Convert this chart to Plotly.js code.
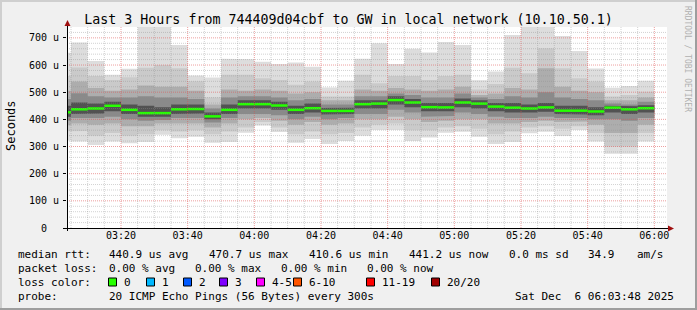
<!DOCTYPE html>
<html><head><meta charset="utf-8">
<script src="https://cdn.plot.ly/plotly-3.0.1.min.js"></script>
<style>html,body{margin:0;padding:0;background:#f0f0f0}</style>
</head><body><div id="chart" style="width:697px;height:310px"></div>
<script>
// ---- data (µs) ----
const times = ['03:05','03:10','03:15','03:20','03:25','03:30','03:35','03:40','03:45','03:50','03:55','04:00',
               '04:05','04:10','04:15','04:20','04:25','04:30','04:35','04:40','04:45','04:50','04:55','05:00',
               '05:05','05:10','05:15','05:20','05:25','05:30','05:35','05:40','05:45','05:50','05:55','06:00'];
const rttMax = [645,683,615,564,586,790,770,674,561,554,623,621,612,604,609,594,517,542,623,680,604,660,646,685,674,544,576,711,760,800,707,652,587,516,523,542];
const rttP19 = [560,591,560,545,555,590,600,588,540,480,564,564,551,545,527,539,484,484,564,533,560,560,545,560,564,510,530,590,570,662,588,551,539,484,490,502];
const rttP17 = [505,539,515,505,510,525,520,520,505,455,510,505,510,505,495,500,470,470,510,505,515,510,505,510,520,490,495,515,510,588,520,505,500,470,470,480];
const rttP15 = [475,496,485,480,480,485,480,480,475,440,480,485,485,480,470,475,455,455,485,485,495,490,480,480,495,480,475,485,480,500,480,475,470,458,455,465];
const rttP13 = [450,462,458,465,455,450,445,455,455,425,455,470,470,465,450,458,442,443,470,470,485,475,460,460,477,470,460,460,455,460,450,450,445,450,448,452];
const rttMedian = [426,437,440,450,435,423,423,437,438,411,435,456,456,451,435,441,431,431,456,458,471,462,445,444,462,458,447,443,440,444,432,432,429,443,437,441];
const rttP8  = [410,420,422,430,420,410,410,420,422,400,420,440,440,435,420,425,418,420,440,440,455,445,430,430,445,440,430,425,425,428,420,418,415,425,420,425];
const rttP6  = [395,405,405,410,400,395,398,405,405,388,405,420,420,415,400,410,400,405,420,420,435,425,410,412,425,420,410,405,405,410,405,405,400,400,395,405];
const rttP4  = [378,385,380,385,375,375,385,385,385,370,385,400,405,395,380,390,380,385,400,400,410,400,390,395,400,400,385,385,390,395,390,392,380,350,350,380];
const rttP2  = [355,357,340,350,340,345,360,355,360,345,355,370,390,370,345,355,345,350,370,380,385,360,360,370,375,365,345,355,370,375,365,375,350,300,300,350];
const rttMin = [322,318,306,318,312,317,343,330,336,314,317,351,377,353,314,328,309,320,340,361,361,320,333,351,354,336,309,317,349,354,339,361,318,273,273,318];
const yTickVals = [0,100,200,300,400,500,600,700];
const yTickText = ['0\u00a0\u00a0','100 u','200 u','300 u','400 u','500 u','600 u','700 u'];
const lossLabels = ['0','1','2','3','4-5','6-10','11-19','20/20'];
const lossColors = ['#26ff00','#00b8ff','#0059ff','#7e00ff','#ff00ff','#ff5500','#ff0000','#a10000'];
const titleText = 'Last 3 Hours from 744409d04cbf to GW in local network (10.10.50.1)';

// ---- helpers ----
const FONT = 'DejaVu Sans Mono';
const L=67, T=27, W=600, H=201;
const px = x => (x-L)/W;
const py = y => (T+H-y)/H;
const STEP = 5*60*1000;
function tms(hhmm, sec){ const p=hhmm.split(':').map(Number); return Date.UTC(2025,11,6,p[0],p[1],sec||0); }
const xs = [];
times.forEach(t => { const e = tms(t); xs.push(e-STEP, e); });
const stepY = arr => { const o=[]; arr.forEach(v => o.push(v,v)); return o; };

const bands = [
  [rttMin, rttMax, '#dddddd'],
  [rttP2, rttP19, '#cacaca'],
  [rttP4, rttP17, '#adadad'],
  [rttP6, rttP15, '#8a8a8a'],
  [rttP8, rttP13, '#525252']
];
const traces = [];
bands.forEach(b => {
  traces.push({x:xs, y:stepY(b[0]), type:'scatter', mode:'lines', line:{width:0, color:b[2]}, hoverinfo:'skip', showlegend:false});
  traces.push({x:xs, y:stepY(b[1]), type:'scatter', mode:'lines', line:{width:0, color:b[2]}, fill:'tonexty', fillcolor:b[2], hoverinfo:'skip', showlegend:false});
});
const mx=[], my=[];
times.forEach((t,i) => { const e=tms(t); mx.push(e-STEP, e, null); my.push(rttMedian[i], rttMedian[i], null); });
traces.push({x:mx, y:my, type:'scatter', mode:'lines', line:{width:2.5, color:'#26ff00'}, connectgaps:false, hoverinfo:'skip', showlegend:false});

// ---- shapes ----
const shapes = [];
const xStart = tms('03:03',48), xEnd = tms('06:03',48);
for (let v=20; v<=720; v+=20) {
  const major = v%100===0;
  shapes.push({type:'line', layer:'above', xref:'paper', yref:'y', x0:0, x1:1, y0:v, y1:v,
    line:{width:1, dash:'1px,1px', color: major ? 'rgba(222,80,80,0.55)' : 'rgba(143,143,143,0.4)'}});
}
for (let t=tms('03:05'); t<=tms('06:00'); t+=STEP) {
  const major = (new Date(t).getUTCMinutes())%20===0;
  shapes.push({type:'line', layer:'above', xref:'x', yref:'paper', x0:t, x1:t, y0:0, y1:1,
    line:{width:1, dash:'1px,1px', color: major ? 'rgba(222,80,80,0.55)' : 'rgba(143,143,143,0.4)'}});
}
// axes
shapes.push({type:'line', layer:'above', xref:'paper', yref:'paper', x0:px(63), x1:px(669), y0:py(228.5), y1:py(228.5), line:{width:1, color:'#000'}});
shapes.push({type:'line', layer:'above', xref:'paper', yref:'paper', x0:px(67.5), x1:px(67.5), y0:py(231), y1:py(23), line:{width:1, color:'#000'}});
shapes.push({type:'path', layer:'above', xref:'paper', yref:'paper',
  path:`M ${px(67.5)},${py(20)} L ${px(64.5)},${py(26)} L ${px(70.5)},${py(26)} Z`, fillcolor:'#a01010', line:{width:0}});
shapes.push({type:'path', layer:'above', xref:'paper', yref:'paper',
  path:`M ${px(674)},${py(228.5)} L ${px(668)},${py(225.5)} L ${px(668)},${py(231.5)} Z`, fillcolor:'#a01010', line:{width:0}});
// frame
shapes.push({type:'line', xref:'paper', yref:'paper', x0:px(0), x1:px(697), y0:py(1), y1:py(1), line:{width:2, color:'#cfcfcf'}});
shapes.push({type:'line', xref:'paper', yref:'paper', x0:px(1), x1:px(1), y0:py(0), y1:py(310), line:{width:2, color:'#cfcfcf'}});
shapes.push({type:'line', xref:'paper', yref:'paper', x0:px(0), x1:px(697), y0:py(309), y1:py(309), line:{width:2, color:'#9e9e9e'}});
shapes.push({type:'line', xref:'paper', yref:'paper', x0:px(696), x1:px(696), y0:py(0), y1:py(310), line:{width:2, color:'#9e9e9e'}});

// loss colour boxes
const boxX = [108,146,183,219,256,293,366,431];
lossColors.forEach((c,i) => {
  shapes.push({type:'rect', xref:'paper', yref:'paper', x0:px(boxX[i]+0.5), x1:px(boxX[i]+8.5), y0:py(286), y1:py(278),
    fillcolor:c, line:{width:1, color:'#000'}});
});

// ---- annotations ----
const ann = [];
function txt(s, x, y, size, extra){
  ann.push(Object.assign({text:s, xref:'paper', yref:'paper', x:px(x), y:py(y), xanchor:'left', yanchor:'middle',
    showarrow:false, font:{family:FONT, size:size||11, color:'#000'}}, extra||{}));
}
const r1=254.5, r2=268.5, r3=282.5, r4=296.5;
txt('median rtt:',16,r1); txt('440.9 us avg',107,r1); txt('470.7 us max',207,r1); txt('410.6 us min',307,r1);
txt('441.2 us now',407,r1); txt('0.0 ms sd',507,r1); txt('34.9',586,r1); txt('am/s',635,r1);
txt('packet loss:',16,r2); txt('0.00 % avg',107,r2); txt('0.00 % max',193,r2); txt('0.00 % min',279,r2); txt('0.00 % now',365,r2);
txt('loss color:',16,r3);
lossLabels.forEach((s,i) => txt(s, boxX[i]+14, r3));
txt('probe:',16,r4); txt('20 ICMP Echo Pings (56 Bytes) every 300s',107,r4); txt('Sat Dec\u00a0\u00a06 06:03:48 2025',513,r4);
ann.push({text:'Seconds', xref:'paper', yref:'paper', x:px(11), y:py(126), xanchor:'center', yanchor:'middle', textangle:-90,
  showarrow:false, font:{family:FONT, size:12, color:'#000'}});
ann.push({text:'RRDTOOL / TOBI OETIKER', xref:'paper', yref:'paper', x:px(688), y:py(59), xanchor:'center', yanchor:'middle', textangle:90,
  showarrow:false, font:{family:FONT, size:8, color:'#b0b0b0'}});

const layout = {
  width:697, height:310,
  paper_bgcolor:'#f0f0f0', plot_bgcolor:'#ffffff',
  margin:{l:L, r:697-L-W, t:T, b:310-T-H, pad:0},
  title:{text:titleText, font:{family:FONT, size:13.3, color:'#000'}, x:0.5, xref:'container', xanchor:'center',
         y:1-19/310, yref:'container', yanchor:'middle'},
  xaxis:{type:'date', range:[xStart, xEnd], showgrid:false, zeroline:false, showline:false,
         tickformat:'%H:%M', tick0:'2025-12-06 03:20:00', dtick:1200000, ticks:'', 
         tickfont:{family:FONT, size:10, color:'#000'}},
  yaxis:{range:[0,740], showgrid:false, zeroline:false, showline:false, tickmode:'array', tickvals:yTickVals, ticktext:yTickText,
         ticks:'outside', ticklen:3, tickcolor:'#000', ticklabelstandoff:2, tickfont:{family:FONT, size:10, color:'#000'}},
  shapes:shapes, annotations:ann, showlegend:false
};
Plotly.newPlot('chart', traces, layout, {staticPlot:true, displayModeBar:false});
</script>
</body></html>
